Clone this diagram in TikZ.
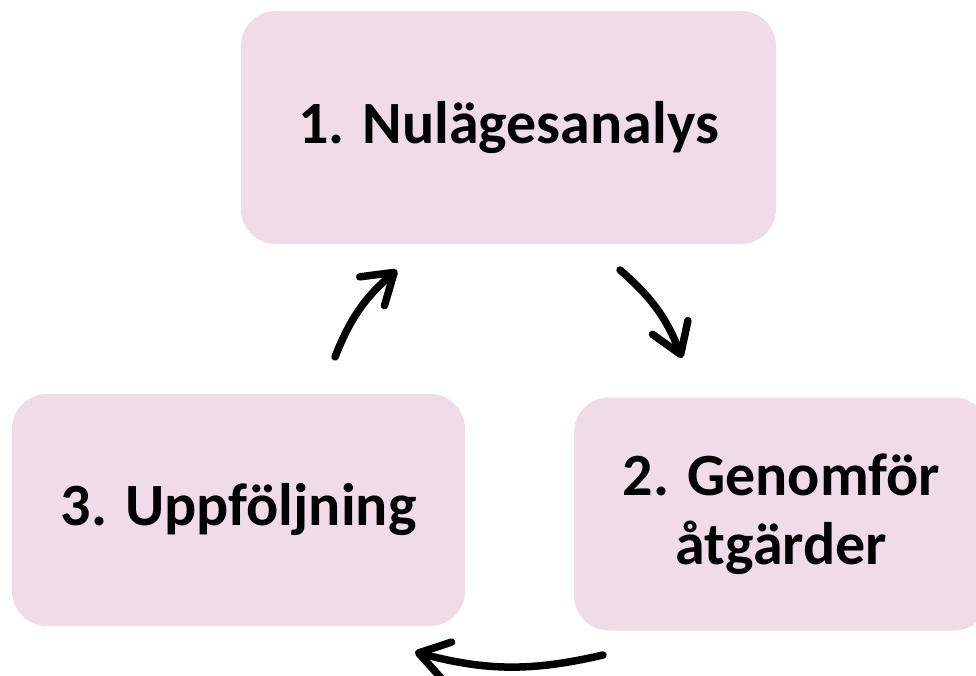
\documentclass[tikz,border=0pt]{standalone}
\usepackage{fontspec}
\setmainfont{Carlito}
\usetikzlibrary{arrows.meta}
\definecolor{boxpink}{RGB}{240,220,231}

\begin{document}
\begin{tikzpicture}[x=1pt,y=-1pt]
    \begin{scope}[>={Straight Barb[length=29pt,width=38pt,round]}] %for open round arrow tips

      % defines
      \tikzset{step box/.style={fill=boxpink, rounded corners=35pt, align=center,
          font=\fontsize{60}{69}\selectfont\bfseries, inner sep=0pt},
        cycle arrow/.style={->, line width=7.5pt, line cap=round}}
      \useasboundingbox (0,0) rectangle (976,676);

      % draw the three boxes (box 2 runs past the right edge)
      \node (NA) at (508.5,127.5) [step box, minimum width=535pt, minimum height=233pt] {1. Nulägesanalys};
      \node (GA) at (781.5,514) [step box, minimum width=415pt, minimum height=233pt] {2. Genomför\\åtgärder};
      \node (UF) at (238.5,510) [step box, minimum width=453pt, minimum height=232pt] {3. Uppföljning};

      % arrow end points between the boxes
      \coordinate (NAout) at (620,270);
      \coordinate (GAin) at (682,358);
      \coordinate (GAout) at (603,655);
      \coordinate (UFin) at (415,652);
      \coordinate (UFout) at (335,357);
      \coordinate (NAin) at (397,270);

      \draw[cycle arrow] (NAout) to[bend left=14] (GAin);
      \draw[cycle arrow] (GAout) to[bend left=14] (UFin);
      \draw[cycle arrow] (UFout) to[bend left=14] (NAin);

    \end{scope}
\end{tikzpicture}
\end{document}
